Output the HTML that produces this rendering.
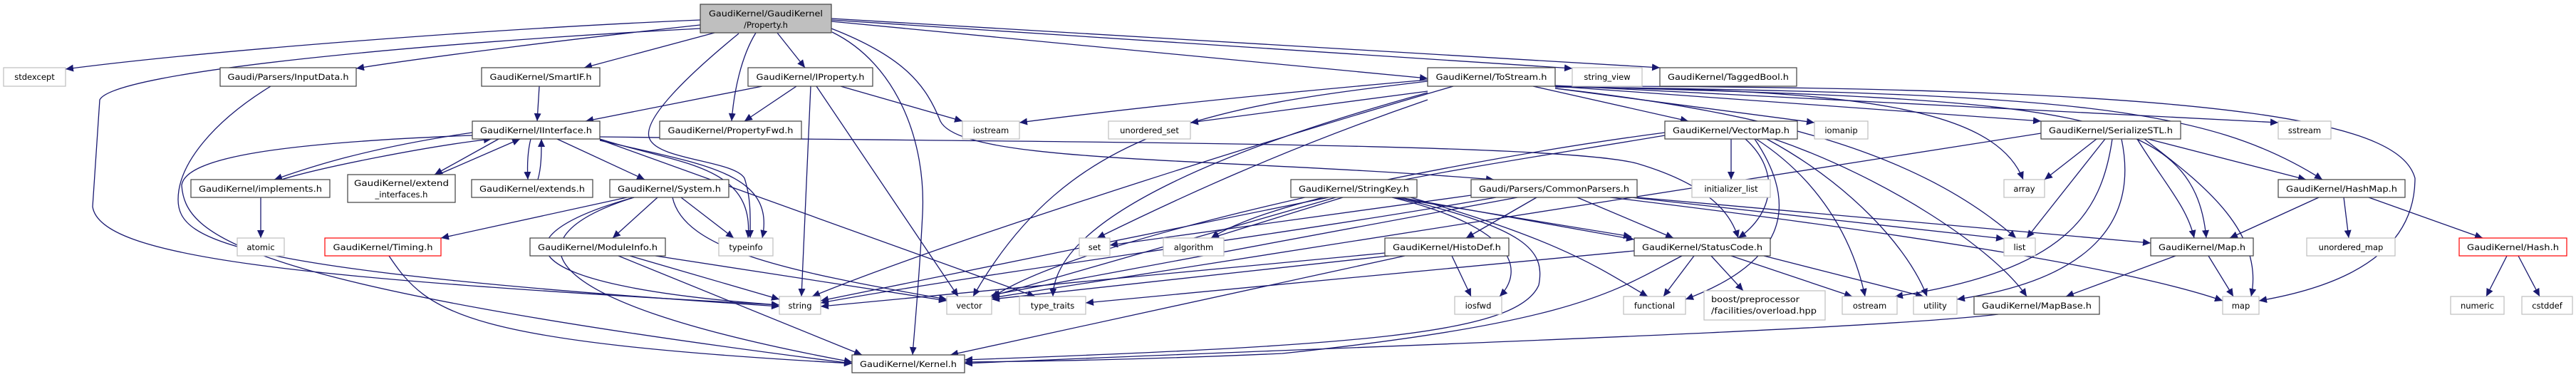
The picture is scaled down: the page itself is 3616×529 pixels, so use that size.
<!DOCTYPE html>
<html><head><meta charset="utf-8"><style>
html,body{margin:0;padding:0;background:#fff;width:3616px;height:529px;overflow:hidden}
svg text{font-family:"DejaVu Sans","Liberation Sans",sans-serif;font-size:11.5px;fill:#000}
.e{fill:none;stroke:#191970;stroke-width:1.3;marker-end:url(#a)}
.n{fill:#fff;stroke:#404040;stroke-width:1.2}
.g{fill:#fff;stroke:#bfbfbf;stroke-width:1.2}
.r{fill:#fff;stroke:#ff0000;stroke-width:1.2}
</style></head><body>
<svg width="3616" height="529" viewBox="0 0 3616 529" xmlns="http://www.w3.org/2000/svg">
<defs><marker id="a" markerUnits="userSpaceOnUse" markerWidth="12" markerHeight="10" refX="11" refY="5" orient="auto"><path d="M0,0 L11,5 L0,10 z" fill="#191970"/></marker></defs>
<g>
<!-- Property.h edges -->
<path class="e" d="M983,28 C700,40 300,70 92,97"/>
<path class="e" d="M983,35 C800,55 600,80 500,96"/>
<path class="e" d="M983,40 C600,60 160,100 140,140 L130,290 C140,360 400,390 1094,428"/>
<path class="e" d="M1003,46 L820,95"/>
<path class="e" d="M1091,46 L1130,95"/>
<path class="e" d="M1061,46 C1040,80 1030,130 1027,170"/>
<path class="e" d="M1037,47 C960,110 900,170 912,195 C925,225 1030,225 1045,250 C1055,280 1053,310 1053,334"/>
<path class="e" d="M1168,45 C1260,90 1300,200 1295,300 C1290,400 1283,470 1281,498"/>
<path class="e" d="M1167,40 C1270,80 1300,120 1320,170 C1350,230 1700,220 2097,252"/>
<path class="e" d="M1167,30 L2004,110"/>
<path class="e" d="M1167,28 L2207,96"/>
<path class="e" d="M1167,26 L2330,95"/>
<!-- InputData -->
<path class="e" d="M380,121 C300,170 250,230 250,280 C250,340 330,380 1094,430"/>
<!-- SmartIF / IProperty -->
<path class="e" d="M757,121 L754,170"/>
<path class="e" d="M1070,121 L822,170"/>
<path class="e" d="M1118,121 L1045,170"/>
<path class="e" d="M1138,121 L1125,416"/>
<path class="e" d="M1146,121 L1345,416"/>
<path class="e" d="M1180,121 L1351,170"/>
<!-- IInterface -->
<path class="e" d="M663,186 C500,210 420,240 385,252"/>
<path class="e" d="M395,252 C450,235 600,205 690,195"/>
<path class="e" d="M700,195 L610,245"/>
<path class="e" d="M615,245 L730,195"/>
<path class="e" d="M745,195 C740,215 740,235 741,252"/>
<path class="e" d="M755,252 C760,235 760,215 760,195"/>
<path class="e" d="M782,195 L905,252"/>
<path class="e" d="M842,195 C950,230 1060,230 1050,334"/>
<path class="e" d="M842,197 C980,230 1090,240 1070,334"/>
<path class="e" d="M842,196 L1453,416"/>
<path class="e" d="M842,192 C1500,200 2200,200 2300,230 C2400,260 2430,300 2440,334"/>
<path class="e" d="M663,190 C400,200 260,220 255,260 C260,330 330,400 1196,510"/>
<!-- System -->
<path class="e" d="M880,277 L619,334"/>
<path class="e" d="M923,277 L860,334"/>
<path class="e" d="M956,277 L1030,334"/>
<path class="e" d="M890,277 C700,330 700,400 1094,428"/>
<path class="e" d="M890,277 C720,330 720,420 1196,508"/>
<path class="e" d="M944,277 C960,350 1100,380 1329,420"/>
<!-- ModuleInfo / Timing -->
<path class="e" d="M884,359 L1094,420"/>
<path class="e" d="M868,359 L1210,498"/>
<path class="e" d="M920,359 L1329,422"/>
<path class="e" d="M546,359 C600,440 650,480 1196,510"/>
<!-- to Kernel.h from right -->
<path class="e" d="M2361,359 C2267,408 2215,452 1800,496 C1600,505 1450,507 1354,508"/>
<path class="e" d="M2805,441 C2600,465 1800,490 1354,510"/>
<path class="e" d="M1960,277 C2140,320 2170,350 2160,400 C2130,470 1900,485 1354,505"/>
<path class="e" d="M1972,359 L1334,498"/>
<!-- StringKey -->
<path class="e" d="M1954,277 C2130,320 2140,380 2105,416"/>
<path class="e" d="M1955,277 L2290,332"/>
<path class="e" d="M1965,277 L2294,336"/>
<path class="e" d="M1980,277 C2200,340 2250,380 2313,416"/>
<path class="e" d="M1875,277 L1390,416"/>
<path class="e" d="M1865,277 L1152,422"/>
<path class="e" d="M1885,277 L1700,334"/>
<!-- CommonParsers -->
<path class="e" d="M2157,277 L2058,334"/>
<path class="e" d="M2214,277 L2349,334"/>
<path class="e" d="M2260,277 C2700,330 3000,380 3120,422"/>
<path class="e" d="M2290,277 L2813,335"/>
<path class="e" d="M2100,277 C1800,330 1400,380 1152,425"/>
<path class="e" d="M2130,277 L1392,414"/>
<path class="e" d="M2298,277 L3019,341"/>
<path class="e" d="M2065,274 L1558,344"/>
<!-- HistoDef -->
<path class="e" d="M2038,359 L2065,416"/>
<path class="e" d="M1944,355 L1152,430"/>
<path class="e" d="M1950,359 L1392,420"/>
<!-- StatusCode -->
<path class="e" d="M2378,359 L2335,416"/>
<path class="e" d="M2430,359 L2600,416"/>
<path class="e" d="M2476,359 L2700,416"/>
<path class="e" d="M2402,359 L2447,408"/>
<path class="e" d="M2294,352 L1524,425"/>
<!-- ToStream -->
<path class="e" d="M2004,112 C1800,130 1600,150 1431,172"/>
<path class="e" d="M2004,114 C1700,150 1500,180 1366,416"/>
<path class="e" d="M2004,128 L1671,172"/>
<path class="e" d="M2004,130 C1750,200 1480,300 1478,416"/>
<path class="e" d="M2004,140 C1800,210 1650,280 1540,334"/>
<path class="e" d="M2040,121 C1700,220 1300,350 1140,416"/>
<path class="e" d="M2152,121 L2370,170"/>
<path class="e" d="M2183,121 L2865,170"/>
<path class="e" d="M2183,124 L2547,172"/>
<path class="e" d="M2183,124 C2500,160 2700,220 2830,334"/>
<path class="e" d="M2183,122 C2600,125 2800,150 2840,252"/>
<path class="e" d="M2183,122 C2900,130 3100,150 3260,252"/>
<path class="e" d="M2183,121 C2900,140 3080,150 3097,334"/>
<path class="e" d="M2183,120 L3198,172"/>
<path class="e" d="M2183,121 C3200,120 3370,180 3390,250 C3390,350 3300,400 3171,422"/>
<!-- VectorMap -->
<path class="e" d="M2430,195 L2430,252"/>
<path class="e" d="M2450,195 C2500,240 2490,300 2440,334"/>
<path class="e" d="M2465,195 C2550,250 2600,330 2618,416"/>
<path class="e" d="M2480,195 C2600,260 2680,350 2705,416"/>
<path class="e" d="M2490,195 C2650,250 2800,350 2845,416"/>
<path class="e" d="M2463,195 C2530,294 2500,370 2366,420"/>
<path class="e" d="M2337,186 C2000,230 1500,340 1392,418"/>
<path class="e" d="M2337,190 C2100,230 1800,270 1700,334"/>
<!-- SerializeSTL -->
<path class="e" d="M2943,195 L2870,252"/>
<path class="e" d="M2955,195 L2845,334"/>
<path class="e" d="M2965,195 C2950,300 2900,380 2660,416"/>
<path class="e" d="M2978,195 C3000,300 2950,390 2747,420"/>
<path class="e" d="M3000,195 C3040,260 3070,290 3080,334"/>
<path class="e" d="M3010,195 C3080,250 3180,320 3160,416"/>
<path class="e" d="M3015,195 L3237,252"/>
<path class="e" d="M2865,187 L1392,418"/>
<!-- HashMap / Map / Hash -->
<path class="e" d="M3255,277 L3130,334"/>
<path class="e" d="M3290,277 L3297,334"/>
<path class="e" d="M3325,277 L3485,334"/>
<path class="e" d="M3100,359 L3135,416"/>
<path class="e" d="M3054,359 L2900,416"/>
<path class="e" d="M3519,359 L3490,416"/>
<path class="e" d="M3535,359 L3565,416"/>
<path class="e" d="M366,277 L366,334"/>
</g>
<g>
<rect x="983" y="6" width="184" height="40" fill="#bfbfbf" stroke="#404040" stroke-width="1.2"/>
<text x="1075" y="23" text-anchor="middle" textLength="160" lengthAdjust="spacingAndGlyphs">GaudiKernel/GaudiKernel</text>
<text x="1075" y="39" text-anchor="middle">/Property.h</text>

<rect class="g" x="5" y="95" width="87" height="26"/><text x="48.5" y="112" text-anchor="middle">stdexcept</text>
<rect class="n" x="309" y="95" width="191" height="26"/><text x="404.5" y="112" text-anchor="middle" textLength="170" lengthAdjust="spacingAndGlyphs">Gaudi/Parsers/InputData.h</text>
<rect class="n" x="676" y="95" width="166" height="26"/><text x="759" y="112" text-anchor="middle" textLength="143" lengthAdjust="spacingAndGlyphs">GaudiKernel/SmartIF.h</text>
<rect class="n" x="1050" y="95" width="175" height="26"/><text x="1137.5" y="112" text-anchor="middle" textLength="152" lengthAdjust="spacingAndGlyphs">GaudiKernel/IProperty.h</text>
<rect class="n" x="2004" y="95" width="179" height="26"/><text x="2093.5" y="112" text-anchor="middle" textLength="156" lengthAdjust="spacingAndGlyphs">GaudiKernel/ToStream.h</text>
<rect class="g" x="2207" y="95" width="98" height="26"/><text x="2256" y="112" text-anchor="middle">string_view</text>
<rect class="n" x="2330" y="95" width="192" height="26"/><text x="2426" y="112" text-anchor="middle" textLength="170" lengthAdjust="spacingAndGlyphs">GaudiKernel/TaggedBool.h</text>

<rect class="n" x="663" y="170" width="179" height="25"/><text x="752.5" y="187" text-anchor="middle" textLength="157" lengthAdjust="spacingAndGlyphs">GaudiKernel/IInterface.h</text>
<rect class="n" x="926" y="170" width="199" height="25"/><text x="1025.5" y="187" text-anchor="middle" textLength="176" lengthAdjust="spacingAndGlyphs">GaudiKernel/PropertyFwd.h</text>
<rect class="g" x="1351" y="170" width="80" height="25"/><text x="1391" y="187" text-anchor="middle">iostream</text>
<rect class="g" x="1556" y="170" width="115" height="25"/><text x="1613.5" y="187" text-anchor="middle">unordered_set</text>
<rect class="n" x="2337" y="170" width="186" height="25"/><text x="2430" y="187" text-anchor="middle" textLength="164" lengthAdjust="spacingAndGlyphs">GaudiKernel/VectorMap.h</text>
<rect class="g" x="2547" y="170" width="75" height="25"/><text x="2584.5" y="187" text-anchor="middle">iomanip</text>
<rect class="n" x="2865" y="170" width="196" height="25"/><text x="2963" y="187" text-anchor="middle" textLength="174" lengthAdjust="spacingAndGlyphs">GaudiKernel/SerializeSTL.h</text>
<rect class="g" x="3198" y="170" width="74" height="25"/><text x="3235" y="187" text-anchor="middle">sstream</text>

<rect class="n" x="268" y="252" width="195" height="25"/><text x="365.5" y="269" text-anchor="middle" textLength="173" lengthAdjust="spacingAndGlyphs">GaudiKernel/implements.h</text>
<rect class="n" x="488" y="245" width="151" height="39"/><text x="563.5" y="261" text-anchor="middle" textLength="133" lengthAdjust="spacingAndGlyphs">GaudiKernel/extend</text><text x="563.5" y="277" text-anchor="middle">_interfaces.h</text>
<rect class="n" x="662" y="252" width="170" height="25"/><text x="747" y="269" text-anchor="middle" textLength="148" lengthAdjust="spacingAndGlyphs">GaudiKernel/extends.h</text>
<rect class="n" x="856" y="252" width="167" height="25"/><text x="939.5" y="269" text-anchor="middle" textLength="145" lengthAdjust="spacingAndGlyphs">GaudiKernel/System.h</text>
<rect class="n" x="1812" y="252" width="177" height="25"/><text x="1900.5" y="269" text-anchor="middle" textLength="155" lengthAdjust="spacingAndGlyphs">GaudiKernel/StringKey.h</text>
<rect class="n" x="2065" y="252" width="233" height="25"/><text x="2181.5" y="269" text-anchor="middle" textLength="211" lengthAdjust="spacingAndGlyphs">Gaudi/Parsers/CommonParsers.h</text>
<rect class="g" x="2375" y="252" width="110" height="25"/><text x="2430" y="269" text-anchor="middle">initializer_list</text>
<rect class="g" x="2813" y="252" width="57" height="25"/><text x="2841.5" y="269" text-anchor="middle">array</text>
<rect class="n" x="3198" y="252" width="178" height="25"/><text x="3287" y="269" text-anchor="middle" textLength="156" lengthAdjust="spacingAndGlyphs">GaudiKernel/HashMap.h</text>

<rect class="g" x="333" y="334" width="66" height="25"/><text x="366" y="351" text-anchor="middle">atomic</text>
<rect class="r" x="456" y="334" width="163" height="25"/><text x="537.5" y="351" text-anchor="middle" textLength="140" lengthAdjust="spacingAndGlyphs">GaudiKernel/Timing.h</text>
<rect class="n" x="744" y="334" width="190" height="25"/><text x="839" y="351" text-anchor="middle" textLength="168" lengthAdjust="spacingAndGlyphs">GaudiKernel/ModuleInfo.h</text>
<rect class="g" x="1009" y="334" width="76" height="25"/><text x="1047" y="351" text-anchor="middle">typeinfo</text>
<rect class="g" x="1515" y="334" width="43" height="25"/><text x="1536.5" y="351" text-anchor="middle">set</text>
<rect class="g" x="1633" y="334" width="85" height="25"/><text x="1675.5" y="351" text-anchor="middle">algorithm</text>
<rect class="n" x="1944" y="334" width="174" height="25"/><text x="2031" y="351" text-anchor="middle" textLength="152" lengthAdjust="spacingAndGlyphs">GaudiKernel/HistoDef.h</text>
<rect class="n" x="2294" y="334" width="191" height="25"/><text x="2389.5" y="351" text-anchor="middle" textLength="169" lengthAdjust="spacingAndGlyphs">GaudiKernel/StatusCode.h</text>
<rect class="g" x="2813" y="334" width="44" height="25"/><text x="2835" y="351" text-anchor="middle">list</text>
<rect class="n" x="3019" y="334" width="144" height="25"/><text x="3091" y="351" text-anchor="middle" textLength="122" lengthAdjust="spacingAndGlyphs">GaudiKernel/Map.h</text>
<rect class="g" x="3238" y="334" width="124" height="25"/><text x="3300" y="351" text-anchor="middle">unordered_map</text>
<rect class="r" x="3452" y="334" width="151" height="25"/><text x="3527.5" y="351" text-anchor="middle" textLength="129" lengthAdjust="spacingAndGlyphs">GaudiKernel/Hash.h</text>

<rect class="g" x="1094" y="416" width="58" height="25"/><text x="1123" y="433" text-anchor="middle">string</text>
<rect class="g" x="1329" y="416" width="63" height="25"/><text x="1360.5" y="433" text-anchor="middle">vector</text>
<rect class="g" x="1431" y="416" width="93" height="25"/><text x="1477.5" y="433" text-anchor="middle">type_traits</text>
<rect class="g" x="2042" y="416" width="66" height="25"/><text x="2075" y="433" text-anchor="middle">iosfwd</text>
<rect class="g" x="2279" y="416" width="87" height="25"/><text x="2322.5" y="433" text-anchor="middle">functional</text>
<rect class="g" x="2392" y="408" width="170" height="41"/><text x="2402" y="424" textLength="124" lengthAdjust="spacingAndGlyphs">boost/preprocessor</text><text x="2402" y="440" textLength="148" lengthAdjust="spacingAndGlyphs">/facilities/overload.hpp</text>
<rect class="g" x="2586" y="416" width="77" height="25"/><text x="2624.5" y="433" text-anchor="middle">ostream</text>
<rect class="g" x="2686" y="416" width="61" height="25"/><text x="2716.5" y="433" text-anchor="middle">utility</text>
<rect class="n" x="2771" y="416" width="176" height="25"/><text x="2859" y="433" text-anchor="middle" textLength="154" lengthAdjust="spacingAndGlyphs">GaudiKernel/MapBase.h</text>
<rect class="g" x="3120" y="416" width="51" height="25"/><text x="3145.5" y="433" text-anchor="middle">map</text>
<rect class="g" x="3440" y="416" width="75" height="25"/><text x="3477.5" y="433" text-anchor="middle">numeric</text>
<rect class="g" x="3540" y="416" width="71" height="25"/><text x="3575.5" y="433" text-anchor="middle">cstddef</text>

<rect class="n" x="1196" y="498" width="158" height="25"/><text x="1275" y="515" text-anchor="middle" textLength="136" lengthAdjust="spacingAndGlyphs">GaudiKernel/Kernel.h</text>
</g>
</svg>
</body></html>
